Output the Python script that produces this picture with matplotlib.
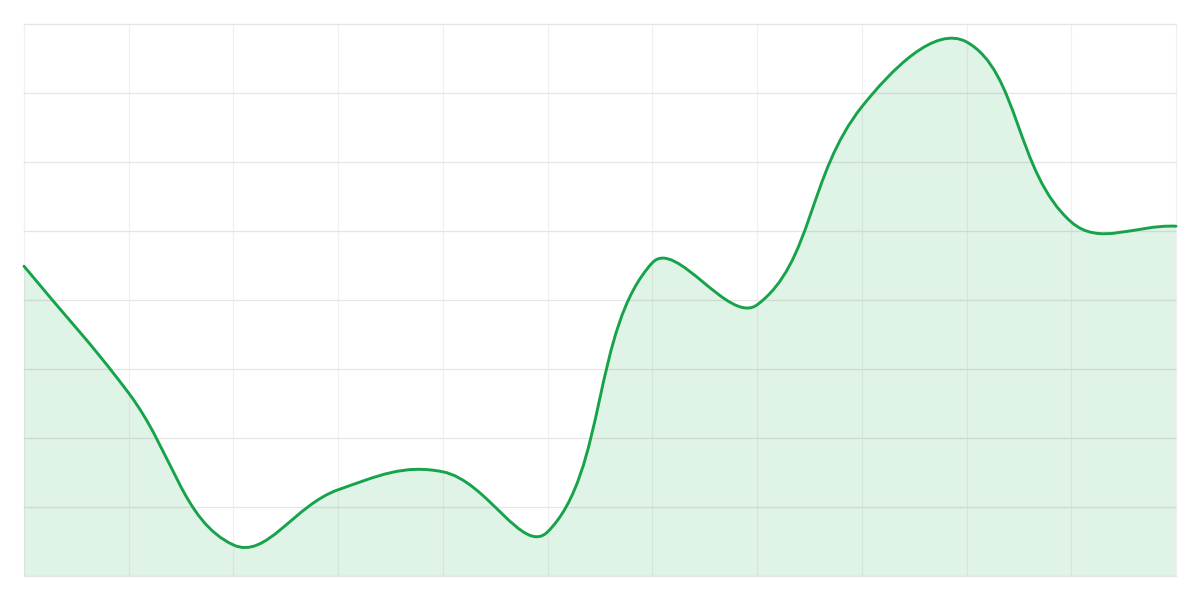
import numpy as np
import matplotlib.pyplot as plt
from matplotlib.path import Path
from matplotlib.patches import PathPatch

# values (y scale 0..80)
idx = list(range(12))
values = [44.9, 26.5, 4.5, 12.5, 15.1, 6.4, 45.4, 39.3, 68.0, 77.4, 51.3, 50.7]
line_color = '#16a34a'
fill_color = '#16a34a'
tension = 0.4

fig = plt.figure(figsize=(12, 6), dpi=100)
ax = fig.add_axes([0.02, 0.04, 0.96, 0.92])
ax.set_xlim(0, 11)
ax.set_ylim(0, 80)
ax.set_xticks(idx)
ax.set_yticks(np.arange(0, 81, 10))
ax.tick_params(length=0, labelbottom=False, labelleft=False)
for s in ax.spines.values():
    s.set_visible(False)
ax.grid(axis='y', color='#e6e6e6', lw=0.9, clip_on=False)
ax.grid(axis='x', color='#f0f0f0', lw=0.9, clip_on=False)
ax.set_axisbelow(True)

# smooth curve through the points, done in pixel space like a tension spline
pts = ax.transData.transform(np.column_stack([idx, values]))
n = len(pts)
verts = [pts[0]]
codes = [Path.MOVETO]
cps = []
for i in range(n):
    cur = pts[i]
    prev = pts[i - 1] if i > 0 else cur
    nxt = pts[i + 1] if i < n - 1 else cur
    d01 = np.hypot(*(cur - prev))
    d12 = np.hypot(*(nxt - cur))
    tot = d01 + d12
    s01 = d01 / tot if tot else 0
    s12 = d12 / tot if tot else 0
    cps.append((cur - tension * s01 * (nxt - prev), cur + tension * s12 * (nxt - prev)))
for i in range(n - 1):
    verts += [cps[i][1], cps[i + 1][0], pts[i + 1]]
    codes += [Path.CURVE4] * 3
verts = ax.transData.inverted().transform(np.array(verts))
verts[:, 1] = np.clip(verts[:, 1], 0, 80)

line_path = Path(verts, codes)
fill_verts = np.vstack([verts, [[11, 0], [0, 0], verts[0]]])
fill_codes = codes + [Path.LINETO, Path.LINETO, Path.CLOSEPOLY]
ax.add_patch(PathPatch(Path(fill_verts, fill_codes), facecolor=fill_color, alpha=0.13, lw=0))
ax.add_patch(PathPatch(line_path, facecolor='none', edgecolor=line_color, lw=2.1, capstyle='round', clip_on=False))

fig.savefig('out.png', dpi=100)
